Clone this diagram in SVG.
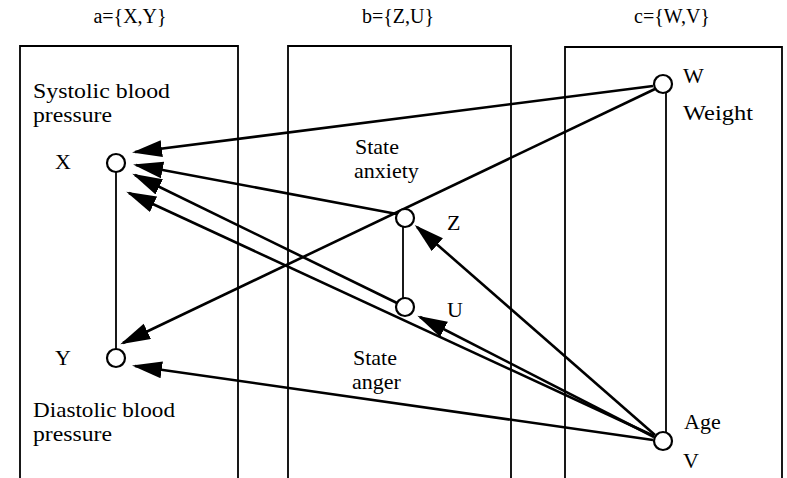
<svg xmlns="http://www.w3.org/2000/svg" width="787" height="478" viewBox="0 0 787 478">
<style>
  .box{fill:none;stroke:#000;stroke-width:1.8}
  .node{fill:#fff;stroke:#000;stroke-width:2.2}
  .link{fill:none;stroke:#000;stroke-width:1.8}
  .arrow{fill:none;stroke:#000;stroke-width:2.6;marker-end:url(#ah)}
  text{font-family:"Liberation Serif","Times New Roman",serif;font-size:22px;fill:#000}
  .title{text-anchor:middle;font-size:20px}
</style>
<defs>
  <marker id="ah" markerUnits="userSpaceOnUse" markerWidth="32" markerHeight="18" refX="27" refY="8.5" orient="auto" viewBox="0 0 32 18">
    <path d="M0,0 L30,8.5 L0,17 Z" fill="#000"/>
  </marker>
</defs>
<rect width="787" height="478" fill="#fff"/>
<g id="panel-a">
  <text class="title" x="130" y="23">a={X,Y}</text>
  <path class="box" d="M20,480 V46 H238 V480"/>
  <text x="33" y="98" textLength="137" lengthAdjust="spacingAndGlyphs">Systolic blood</text>
  <text x="33" y="122" textLength="79" lengthAdjust="spacingAndGlyphs">pressure</text>
  <text x="33" y="417" textLength="142" lengthAdjust="spacingAndGlyphs">Diastolic blood</text>
  <text x="33" y="441" textLength="79" lengthAdjust="spacingAndGlyphs">pressure</text>
</g>
<g id="panel-b">
  <text class="title" x="398" y="23">b={Z,U}</text>
  <path class="box" d="M288,480 V46 H511 V480"/>
  <text x="355" y="154">State</text>
  <text x="354" y="178">anxiety</text>
  <text x="353" y="365">State</text>
  <text x="352" y="389">anger</text>
</g>
<g id="panel-c">
  <text class="title" x="672" y="23">c={W,V}</text>
  <path class="box" d="M565,480 V47 H782 V480"/>
</g>
<g id="connectors">
  <line class="link" x1="116" y1="172" x2="116" y2="349"/>
  <line class="link" x1="403" y1="227" x2="403" y2="298"/>
  <line class="link" x1="666" y1="93" x2="666" y2="432"/>
  <path class="arrow" d="M653,86 L135,152"/>
  <path class="arrow" d="M655,89 L123,343"/>
  <path class="arrow" d="M397,214 L136,165"/>
  <path class="arrow" d="M397,303 L135,175"/>
  <path class="arrow" d="M654,436 L129,193"/>
  <path class="arrow" d="M655,435 L417,227"/>
  <path class="arrow" d="M654,437 L420,317"/>
  <path class="arrow" d="M653,440 L135,366"/>
</g>
<g id="node-X">
  <circle class="node" cx="116" cy="163" r="9"/>
  <text x="55" y="169">X</text>
</g>
<g id="node-Y">
  <circle class="node" cx="116" cy="358" r="9"/>
  <text x="55" y="365">Y</text>
</g>
<g id="node-Z">
  <circle class="node" cx="405" cy="218" r="9"/>
  <text x="447" y="230">Z</text>
</g>
<g id="node-U">
  <circle class="node" cx="405" cy="307" r="9"/>
  <text x="447" y="317">U</text>
</g>
<g id="node-W">
  <circle class="node" cx="663" cy="84" r="9"/>
  <text x="683" y="83">W</text>
  <text x="683" y="120" textLength="70" lengthAdjust="spacingAndGlyphs">Weight</text>
</g>
<g id="node-V">
  <circle class="node" cx="663" cy="441" r="9"/>
  <text x="684" y="429">Age</text>
  <text x="683" y="468">V</text>
</g>
</svg>
